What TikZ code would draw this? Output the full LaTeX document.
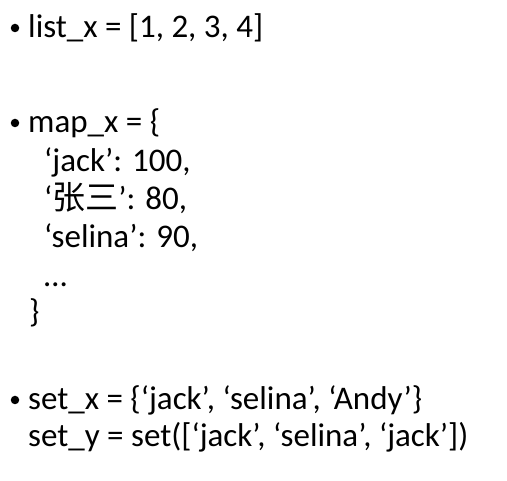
\documentclass[tikz,border=0pt]{standalone}
\usepackage{fontspec}
\setmainfont{Carlito}
\newfontfamily\cjk{Noto Sans CJK SC}
\usetikzlibrary{positioning}

\tikzset{
  codeline/.style={anchor=base west,inner sep=0pt,font=\fontsize{33}{35}\selectfont},
  dot/.style={circle,fill=black,inner sep=0pt,minimum size=8.5pt}
}

\begin{document}
\begin{tikzpicture}[x=1pt,y=-1pt]
		\useasboundingbox[fill=white] (0,0) rectangle (507,481);
		% first bullet
		\node[dot] (b1) at (15,28) {};
		\node[codeline] (list) at (28,38) {list\_x = [1, 2, 3, 4]};
		% second bullet
		\node[dot] (b2) at (15,123) {};
		\node[codeline] (map) at (28,133) {map\_x = \{};
		\node[codeline] (jack) at (44,172) {‘jack’: 100,};
		\node[codeline] (zhang) at (44,210) {‘{\cjk 张三}’: 80,};
		\node[codeline] (selina) at (44,248) {‘selina’: 90,};
		\node[codeline] (more) at (44,287) {…};
		\node[codeline] (close) at (29,323) {\}};
		% third bullet
		\node[dot] (b3) at (15,400) {};
		\node[codeline] (setx) at (28,410) {set\_x = \{‘jack’, ‘selina’, ‘Andy’\}};
		\node[codeline] (sety) at (28,447) {set\_y = set([‘jack’, ‘selina’, ‘jack’])};
\end{tikzpicture}
\end{document}
